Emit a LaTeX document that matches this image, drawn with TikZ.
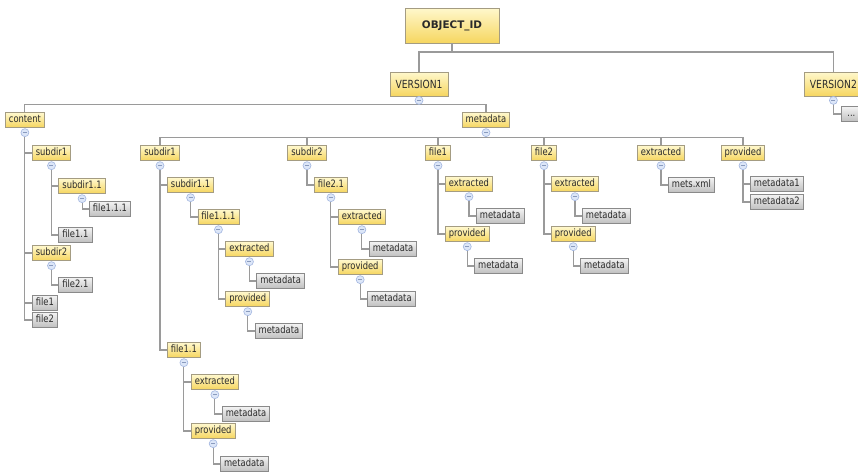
\documentclass[tikz,border=0pt]{standalone}
\usepackage{fontspec}
\setmainfont{DejaVu Sans}[FakeStretch=0.82]
\newfontfamily\headfont{DejaVu Sans}
\usetikzlibrary{calc}

\definecolor{ytop}{HTML}{FFF8CC}
\definecolor{ybot}{HTML}{F6D660}
\definecolor{yedge}{HTML}{A49C82}
\definecolor{gtop}{HTML}{F2F2F2}
\definecolor{gbot}{HTML}{C0C0C0}
\definecolor{gedge}{HTML}{8A8A8A}
\definecolor{wire}{HTML}{9A9A9A}
\definecolor{ink}{HTML}{2A2A2A}
\definecolor{knobfill}{HTML}{DCE6F8}
\definecolor{knobedge}{HTML}{A2B6E0}

\tikzset{
  box/.style={draw, line width=0.8pt, inner xsep=3.5pt, inner ysep=0pt,
    minimum height=14.5pt, text=ink, font=\fontsize{10.2}{11}\selectfont,
    text height=7.5pt, text depth=2.2pt, anchor=west},
  folder/.style={box, draw=yedge, top color=ytop, bottom color=ybot},
  leaf/.style={box, draw=gedge, top color=gtop, bottom color=gbot},
  headbox/.style={draw=yedge, line width=0.8pt, top color=ytop, bottom color=ybot,
    text=ink, inner sep=0pt},
  conn/.style={draw=wire, line width=1.1pt},
  knobring/.style={fill=knobfill, draw=knobedge, line width=0.6pt},
  knobbar/.style={draw=knobedge!85!black, line width=1pt},
}

% child node: placed 7pt right of the parent's centre line, at a given row
\newcommand\treekid[5]{\node[#1, xshift=7pt] (#2) at (#3.center |- 0,#4) {#5};}
% elbow connector from below the parent's toggle to the child's left side
\newcommand\treewire[2]{\draw[conn] ($(#1.south)+(0,9)$) |- (#2.west);}
% collapse toggle under a node
\newcommand\treeknob[2][5]{%
  \filldraw[knobring] ($(#2.south)+(0,#1)$) circle[radius=4];
  \draw[knobbar] ($(#2.south)+(-2,#1)$) -- ++(4,0);}

\begin{document}
\begin{tikzpicture}[x=1pt,y=-1pt]
\useasboundingbox (0,0) rectangle (858,472);
\fill[white] (0,0) rectangle (858,472);

% ---- root and versions ----
\node[headbox, minimum width=94pt, minimum height=35pt,
      font=\headfont\bfseries\fontsize{10.4}{11}\selectfont] (obj) at (452,25.5) {OBJECT\_ID};
\node[headbox, minimum width=58pt, minimum height=24pt,
      font=\fontsize{11.2}{12}\selectfont] (v1) at (419,84) {VERSION1};
\node[headbox, minimum width=58pt, minimum height=24pt, anchor=west,
      font=\fontsize{11.2}{12}\selectfont] (v2) at (804,84) {VERSION2};
\node[leaf, minimum width=20pt] (more) at (841,114) {...};

% ---- VERSION1 children ----
\node[folder] (content) at (5,120) {content};
\node[folder, anchor=center] (meta) at (486,120) {metadata};

% content subtree
\treekid{folder}{csa}{content}{153}{subdir1}
\treekid{folder}{csaa}{csa}{186}{subdir1.1}
\treekid{leaf}{cfaaa}{csaa}{209}{file1.1.1}
\treekid{leaf}{cfaa}{csa}{235}{file1.1}
\treekid{folder}{csb}{content}{253}{subdir2}
\treekid{leaf}{cfba}{csb}{285}{file2.1}
\treekid{leaf}{cfa}{content}{303}{file1}
\treekid{leaf}{cfb}{content}{320}{file2}

% metadata children
\node[folder, anchor=center] (msa) at (160,153) {subdir1};
\node[folder, anchor=center] (msb) at (307,153) {subdir2};
\node[folder, anchor=center] (mfa) at (438,153) {file1};
\node[folder, anchor=center] (mfb) at (544,153) {file2};
\node[folder, anchor=center] (mext) at (661,153) {extracted};
\node[folder, anchor=center] (mprov) at (743,153) {provided};

% metadata / subdir1
\treekid{folder}{msaa}{msa}{185}{subdir1.1}
\treekid{folder}{mfaaa}{msaa}{217}{file1.1.1}
\treekid{folder}{mfaaax}{mfaaa}{249}{extracted}
\treekid{leaf}{mfaaaxm}{mfaaax}{281}{metadata}
\treekid{folder}{mfaaap}{mfaaa}{299}{provided}
\treekid{leaf}{mfaaapm}{mfaaap}{331}{metadata}
\treekid{folder}{mfaa}{msa}{350}{file1.1}
\treekid{folder}{mfaax}{mfaa}{382}{extracted}
\treekid{leaf}{mfaaxm}{mfaax}{414}{metadata}
\treekid{folder}{mfaap}{mfaa}{431}{provided}
\treekid{leaf}{mfaapm}{mfaap}{464}{metadata}

% metadata / subdir2
\treekid{folder}{mfba}{msb}{185}{file2.1}
\treekid{folder}{mfbax}{mfba}{217}{extracted}
\treekid{leaf}{mfbaxm}{mfbax}{249}{metadata}
\treekid{folder}{mfbap}{mfba}{267}{provided}
\treekid{leaf}{mfbapm}{mfbap}{299}{metadata}

% metadata / file1
\treekid{folder}{mfax}{mfa}{184}{extracted}
\treekid{leaf}{mfaxm}{mfax}{216}{metadata}
\treekid{folder}{mfap}{mfa}{234}{provided}
\treekid{leaf}{mfapm}{mfap}{266}{metadata}

% metadata / file2
\treekid{folder}{mfbx}{mfb}{184}{extracted}
\treekid{leaf}{mfbxm}{mfbx}{216}{metadata}
\treekid{folder}{mfbp}{mfb}{234}{provided}
\treekid{leaf}{mfbpm}{mfbp}{266}{metadata}

% metadata / extracted, provided
\treekid{leaf}{mets}{mext}{185}{mets.xml}
\treekid{leaf}{mpa}{mprov}{184}{metadata1}
\treekid{leaf}{mpb}{mprov}{202}{metadata2}

% ---- connectors ----
\coordinate (topbus) at (0,52);
\draw[conn] (obj.south) -- (obj.south |- topbus);
\draw[conn] (v1.north) |- (v2.north |- topbus) -- (v2.north);

\coordinate (vbus) at ($(v1.south)+(0,8)$);
\draw[conn] (content.north) |- (vbus) -| (meta.north);
\draw[conn] ($(v2.south)+(0,8)$) |- (more.west);

\coordinate (mbus) at ($(meta.south)+(0,10)$);
\draw[conn] (msa.north) |- (mbus) -| (mprov.north);
\foreach \n in {msb,mfa,mfb,mext} \draw[conn] (\n.north) -- (\n.north |- mbus);

\treewire{content}{csa} \treewire{content}{csb} \treewire{content}{cfa} \treewire{content}{cfb}
\treewire{csa}{csaa} \treewire{csa}{cfaa} \treewire{csaa}{cfaaa} \treewire{csb}{cfba}

\treewire{msa}{msaa} \treewire{msa}{mfaa}
\treewire{msaa}{mfaaa}
\treewire{mfaaa}{mfaaax} \treewire{mfaaa}{mfaaap}
\treewire{mfaaax}{mfaaaxm} \treewire{mfaaap}{mfaaapm}
\treewire{mfaa}{mfaax} \treewire{mfaa}{mfaap}
\treewire{mfaax}{mfaaxm} \treewire{mfaap}{mfaapm}

\treewire{msb}{mfba}
\treewire{mfba}{mfbax} \treewire{mfba}{mfbap}
\treewire{mfbax}{mfbaxm} \treewire{mfbap}{mfbapm}

\treewire{mfa}{mfax} \treewire{mfa}{mfap}
\treewire{mfax}{mfaxm} \treewire{mfap}{mfapm}
\treewire{mfb}{mfbx} \treewire{mfb}{mfbp}
\treewire{mfbx}{mfbxm} \treewire{mfbp}{mfbpm}

\treewire{mext}{mets}
\treewire{mprov}{mpa} \treewire{mprov}{mpb}

% ---- collapse toggles ----
\treeknob[4]{v1} \treeknob[4]{v2}
\foreach \n in {content,csa,csaa,csb,meta,msa,msaa,mfaaa,mfaaax,mfaaap,mfaa,mfaax,mfaap,
                msb,mfba,mfbax,mfbap,mfa,mfax,mfap,mfb,mfbx,mfbp,mext,mprov}
  {\treeknob{\n}}
\end{tikzpicture}
\end{document}
